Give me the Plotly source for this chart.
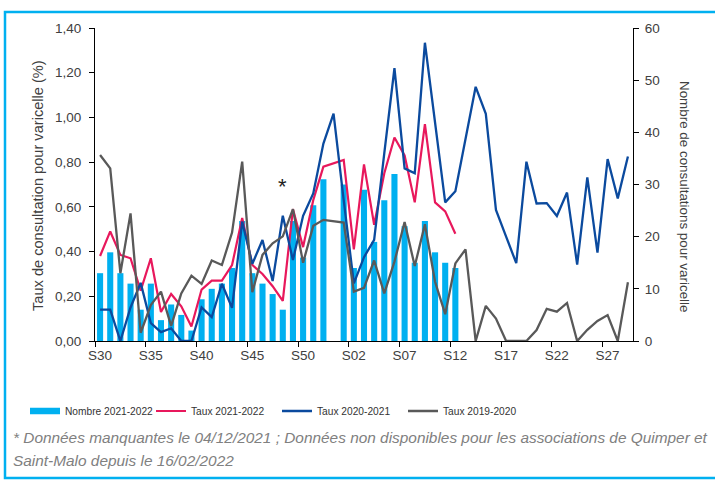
import plotly.graph_objects as go

weeks = ["S30", "S31", "S32", "S33", "S34", "S35", "S36", "S37", "S38", "S39",
         "S40", "S41", "S42", "S43", "S44", "S45", "S46", "S47", "S48", "S49",
         "S50", "S51", "S52", "S53", "S01", "S02", "S03", "S04", "S05", "S06",
         "S07", "S08", "S09", "S10", "S11", "S12", "S13", "S14", "S15", "S16",
         "S17", "S18", "S19", "S20", "S21", "S22", "S23", "S24", "S25", "S26",
         "S27", "S28", "S29"]

# Nombre de consultations 2021-2022 (axe de droite)
nombre_2122 = [13, 17, 13, 11, 6, 11, 4, 7, 5, 2,
               8, 10, 11, 14, 23, 13, 11, 9, 6, 23,
               16, 26, 31, None, 30, 14, 29, 19, 27, 32,
               22, 15, 23, 17, 15, 14, None, None, None, None,
               None, None, None, None, None, None, None, None, None, None,
               None, None, None]

# Taux de consultation (%) (axe de gauche)
taux_2122 = [0.38, 0.49, 0.385, 0.37, 0.225, 0.37, 0.13, 0.21, 0.155, 0.065,
             0.23, 0.27, 0.27, 0.34, 0.55, 0.34, 0.30, 0.245, 0.18, 0.59,
             0.42, 0.63, 0.78, None, 0.81, 0.41, 0.79, 0.52, 0.75, 0.91,
             0.83, 0.62, 0.97, 0.62, 0.58, 0.48, None, None, None, None,
             None, None, None, None, None, None, None, None, None, None,
             None, None, None]

taux_2021 = [0.14, 0.14, 0.0, 0.15, 0.26, 0.08, 0.04, 0.057, 0.0, 0.0,
             0.15, 0.107, 0.256, 0.148, 0.534, 0.345, 0.452, 0.268, 0.56, 0.362,
             0.56, 0.66, 0.883, 1.017, 0.63, 0.258, 0.375, 0.452, 0.84, 1.22,
             0.772, 0.75, 1.334, 0.98, 0.62, 0.67, 0.9, 1.137, 1.016, 0.586,
             0.467, 0.348, 0.802, 0.615, 0.617, 0.559, 0.664, 0.342, 0.732, 0.395,
             0.814, 0.638, 0.825]

taux_1920 = [0.832, 0.772, 0.303, 0.571, 0.037, 0.161, 0.221, 0.068, 0.213, 0.292,
             0.255, 0.36, 0.34, 0.485, 0.802, 0.218, 0.385, 0.437, 0.468, 0.59,
             0.35, 0.515, 0.542, None, 0.53, 0.221, 0.238, 0.36, 0.213, 0.355,
             0.532, 0.335, 0.522, 0.265, 0.12, 0.347, 0.41, 0.0, 0.157, 0.10,
             0.0, 0.0, 0.0, 0.049, 0.144, 0.131, 0.17, 0.0, 0.05, 0.09,
             0.116, 0.0, 0.263]

series_names = ["Nombre 2021-2022", "Taux 2021-2022", "Taux 2020-2021", "Taux 2019-2020"]
missing_week = "S48"

CYAN = "#00B0F0"
RED = "#E8185C"
BLUE = "#0B4A9E"
GRAY = "#595959"
TXT = "#404040"
FONT = "Liberation Sans"

fig = go.Figure()

# legend proxy for the bars (wide rectangle like the original)
fig.add_trace(go.Scatter(x=[None], y=[None], mode="lines", name=series_names[0],
                         line=dict(color=CYAN, width=6.5), yaxis="y", showlegend=True,
                         hoverinfo="skip"))

fig.add_trace(go.Bar(x=weeks, y=nombre_2122, name=series_names[0], marker_color=CYAN,
                     marker_line_width=0, yaxis="y", showlegend=False))

fig.add_trace(go.Scatter(x=weeks, y=taux_2122, name=series_names[1], mode="lines",
                         line=dict(color=RED, width=2.2), yaxis="y2", connectgaps=True))
fig.add_trace(go.Scatter(x=weeks, y=taux_2021, name=series_names[2], mode="lines",
                         line=dict(color=BLUE, width=2.3), yaxis="y2", connectgaps=True))
fig.add_trace(go.Scatter(x=weeks, y=taux_1920, name=series_names[3], mode="lines",
                         line=dict(color=GRAY, width=2.3), yaxis="y2", connectgaps=True))

W, H = 715, 481
L, R, T, B = 95, 82, 28, 140
pw, ph = W - L - R, H - T - B


def px(xp):
    return (xp - L) / pw


def py(yp):
    return (H - B - yp) / ph


fig.update_layout(
    width=W, height=H,
    margin=dict(l=L, r=R, t=T, b=B, autoexpand=False),
    paper_bgcolor="white", plot_bgcolor="white",
    separators=", ",
    bargap=0.4,
    font=dict(family=FONT, size=13, color=TXT),
    xaxis=dict(type="category", categoryorder="array", categoryarray=weeks,
               range=[-0.5, len(weeks) - 0.5], tickmode="linear", tick0=0, dtick=5,
               tickson="boundaries", ticks="outside", ticklen=5, tickcolor="black",
               tickangle=0, automargin=False, ticklabelstandoff=2,
               showline=True, linecolor="black", linewidth=1, showgrid=False,
               tickfont=dict(family=FONT, size=13.5, color=TXT), fixedrange=True),
    yaxis=dict(side="right", range=[0, 60], dtick=10, tickmode="linear", tick0=0,
               ticks="outside", ticklen=5, tickcolor="black", showline=True,
               linecolor="black", linewidth=1, showgrid=False, zeroline=False,
               automargin=False, ticklabelstandoff=3, fixedrange=True,
               tickfont=dict(family=FONT, size=13.5, color=TXT)),
    yaxis2=dict(side="left", overlaying="y", range=[0, 1.4], dtick=0.2, tickmode="linear",
                tick0=0, tickformat=".2f", ticks="outside", ticklen=5, tickcolor="black",
                showline=True, linecolor="black", linewidth=1, showgrid=False,
                zeroline=False, automargin=False, ticklabelstandoff=5, fixedrange=True,
                tickfont=dict(family=FONT, size=13.5, color=TXT)),
    legend=dict(orientation="h", x=px(25), xanchor="left", y=py(411), yanchor="middle",
                font=dict(family=FONT, size=10.2, color="#333333"),
                bgcolor="rgba(0,0,0,0)", itemwidth=30, tracegroupgap=0,
                entrywidth=81, entrywidthmode="pixels"),
    showlegend=True,
)

annotations = [
    dict(text="Taux de consultation pour varicelle (%)", xref="paper", yref="paper",
         x=px(38), y=py(186), textangle=-90, showarrow=False,
         font=dict(family=FONT, size=14.6, color=TXT), xanchor="center", yanchor="middle"),
    dict(text="Nombre de consultations pour varicelle", xref="paper", yref="paper",
         x=px(685), y=py(196), textangle=90, showarrow=False,
         font=dict(family=FONT, size=13.4, color=TXT), xanchor="center", yanchor="middle"),
    dict(text="*", x=missing_week, y=0.69, xref="x", yref="y2", showarrow=False,
         font=dict(family=FONT, size=22, color="#222222")),
    dict(text="<i>* Données manquantes le 04/12/2021 ; Données non disponibles pour les associations de Quimper et</i>",
         xref="paper", yref="paper", x=px(11), y=py(437), xanchor="left", yanchor="middle",
         showarrow=False, font=dict(family=FONT, size=15.4, color="#808080")),
    dict(text="<i>Saint-Malo depuis le 16/02/2022</i>",
         xref="paper", yref="paper", x=px(11), y=py(460), xanchor="left", yanchor="middle",
         showarrow=False, font=dict(family=FONT, size=15.4, color="#808080")),
]
fig.update_layout(annotations=annotations)

fig.add_shape(type="rect", xref="paper", yref="paper",
              x0=px(5), x1=px(730), y0=py(478), y1=py(12),
              line=dict(color=CYAN, width=2.5), fillcolor="rgba(0,0,0,0)", layer="below")

fig.write_html("out.html", config={"displayModeBar": False},
               post_script="document.body.style.margin='0px';")
